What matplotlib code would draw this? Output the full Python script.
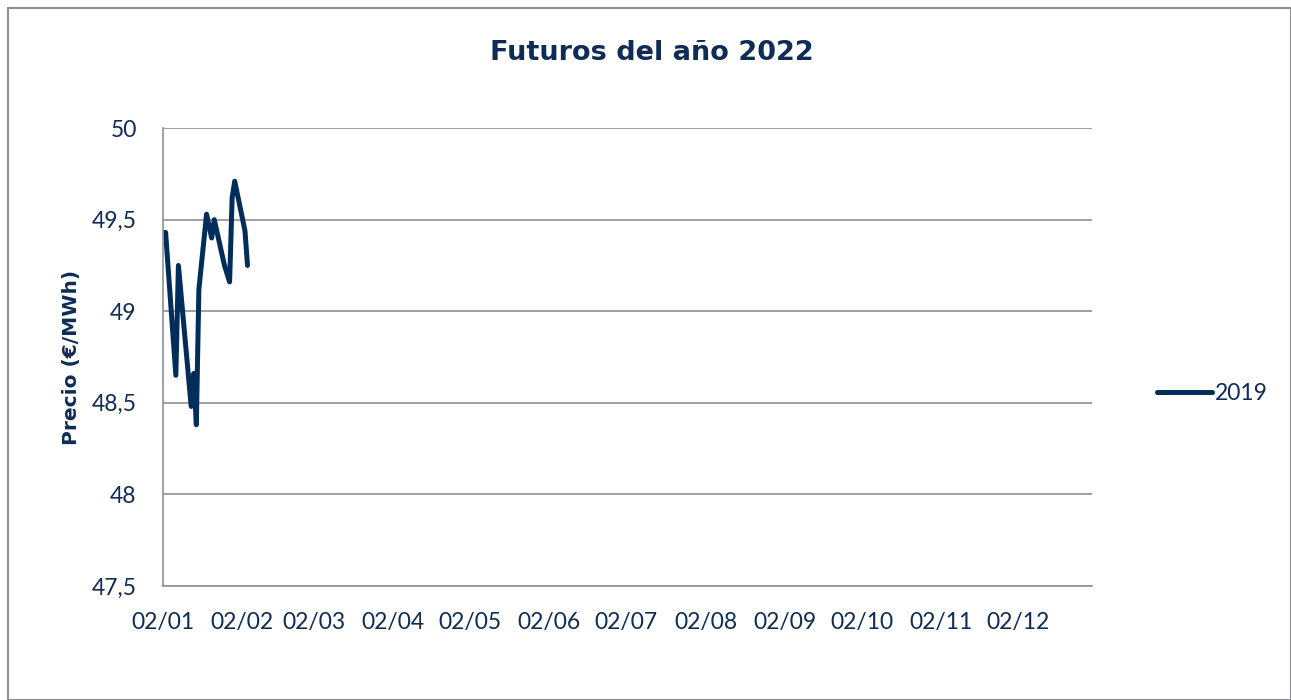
import numpy as np
import pandas as pd
from matplotlib import pyplot as plt
import matplotlib.dates as mdates
from matplotlib.patches import Rectangle
from matplotlib.ticker import FuncFormatter

plt.rcParams['font.family'] = ['Lato', 'DejaVu Sans']

# Futures price readings (2019 series)
fechas = ['2019-01-02', '2019-01-03', '2019-01-07', '2019-01-08', '2019-01-13',
          '2019-01-14', '2019-01-15', '2019-01-16', '2019-01-19', '2019-01-21',
          '2019-01-22', '2019-01-26', '2019-01-28', '2019-01-29', '2019-01-30',
          '2019-02-03', '2019-02-04']
precios = [49.43, 49.43, 48.65, 49.25, 48.48, 48.66, 48.38, 49.12, 49.53, 49.40,
           49.50, 49.25, 49.16, 49.62, 49.71, 49.44, 49.25]
ticks_x = ['2019-%02d-02' % m for m in range(1, 13)]

navy = '#002D5A'
txt = '#0E2C55'
gris = '#8E9095'

fechas = pd.to_datetime(fechas)
fig = plt.figure(figsize=(12.91, 7.0), dpi=100)
fig.patches.append(Rectangle((0.006, 0.0), 0.994, 0.989, transform=fig.transFigure,
                             fill=False, edgecolor=gris, linewidth=1.5))
ax = fig.add_axes([0.1263, 0.163, 0.7196, 0.654])

ax.plot(fechas, precios, color=navy, linewidth=3.6, label='2019', solid_capstyle='round')

ax.set_ylim(47.5, 50)
ax.set_yticks(np.arange(47.5, 50.01, 0.5))
ax.yaxis.set_major_formatter(FuncFormatter(lambda v, p: ('%g' % v).replace('.', ',')))
ax.set_xlim(pd.Timestamp('2019-01-02'), pd.Timestamp('2019-12-31'))
ax.set_xticks(pd.to_datetime(ticks_x))
ax.xaxis.set_major_formatter(mdates.DateFormatter('%d/%m'))

ax.grid(axis='y', color=gris, linewidth=1.2)
ax.set_axisbelow(True)
for s in ['top', 'right']:
    ax.spines[s].set_visible(False)
for s in ['left', 'bottom']:
    ax.spines[s].set_color(gris)
    ax.spines[s].set_linewidth(1.2)
ax.tick_params(length=0, labelsize=16.5, labelcolor=txt)
ax.tick_params(axis='y', pad=19)
ax.tick_params(axis='x', pad=19)

ax.set_ylabel('Precio (€/MWh)', fontsize=14.5, fontweight='bold', color=txt, labelpad=8,
              family='DejaVu Sans')
fig.text(0.505, 0.925, 'Futuros del año 2022', ha='center', va='center',
         fontsize=19.5, fontweight='bold', color=txt, family='DejaVu Sans')

fig.legend(loc='center left', bbox_to_anchor=(0.880, 0.438), frameon=False,
           fontsize=16.5, labelcolor=txt, handlelength=2.4, handletextpad=0.15)

fig.savefig('out.png', dpi=100)
